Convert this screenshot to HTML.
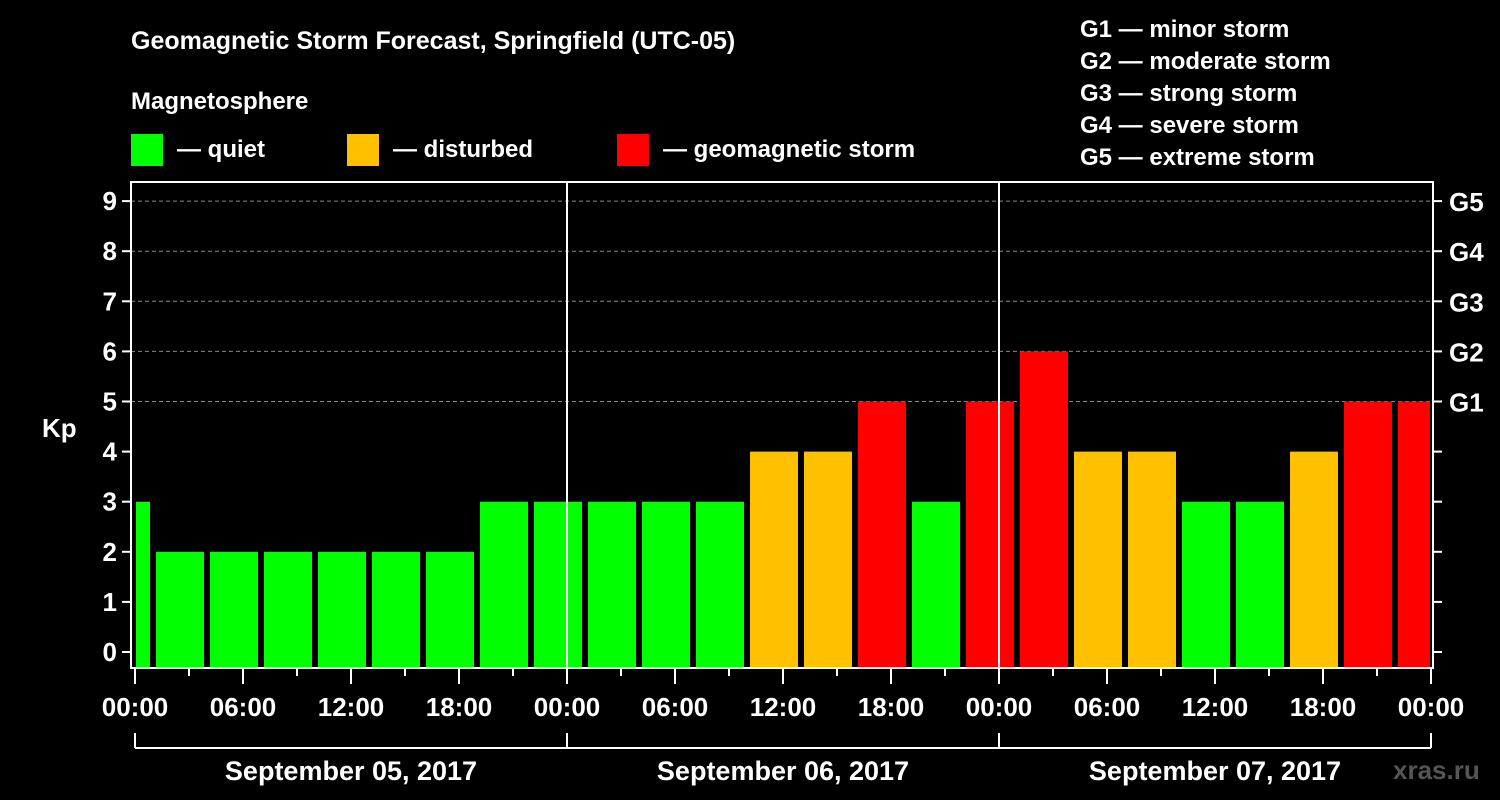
<!DOCTYPE html>
<html><head><meta charset="utf-8"><style>
html,body{margin:0;padding:0;background:#000;}
svg{display:block;font-family:"Liberation Sans",sans-serif;font-weight:bold;}
</style></head><body>
<svg width="1500" height="800" viewBox="0 0 1500 800">
<rect width="1500" height="800" fill="#000"/>
<text x="131" y="49" fill="#fff" font-size="25">Geomagnetic Storm Forecast, Springfield (UTC-05)</text>
<text x="131" y="109" fill="#fff" font-size="24">Magnetosphere</text>
<g><rect x="131" y="134" width="32" height="32" fill="#00ff00"/><text x="177" y="157" fill="#fff" font-size="24">— quiet</text></g>
<g><rect x="347" y="134" width="32" height="32" fill="#ffc000"/><text x="393" y="157" fill="#fff" font-size="24">— disturbed</text></g>
<g><rect x="617" y="134" width="32" height="32" fill="#ff0000"/><text x="663" y="157" fill="#fff" font-size="24">— geomagnetic storm</text></g>
<g fill="#fff" font-size="24">
<text x="1080" y="37">G1 — minor storm</text>
<text x="1080" y="69">G2 — moderate storm</text>
<text x="1080" y="101">G3 — strong storm</text>
<text x="1080" y="133">G4 — severe storm</text>
<text x="1080" y="165">G5 — extreme storm</text>
</g>
<text x="42" y="437" fill="#fff" font-size="26">Kp</text>
<g id="plot"></g>
<text x="1393" y="779" fill="#555" font-size="26">xras.ru</text>
</svg>
<script>
const kpValues=[3,2,2,2,2,2,2,3,3,3,3,3,4,4,5,3,5,6,4,4,3,3,4,5,5];
const dayLabels=["September 05, 2017","September 06, 2017","September 07, 2017"];
const hourLabels=["00:00","06:00","12:00","18:00"];
const gLabels=["G1","G2","G3","G4","G5"];
const NS="http://www.w3.org/2000/svg";
const g=document.getElementById('plot');
const L=131,R=1433,T=182,B=668,X0=135;
const xh=h=>X0+h*18; // hours
const yk=k=>652-k*50.1;
function el(tag,attrs,txt){const e=document.createElementNS(NS,tag);for(const k in attrs)e.setAttribute(k,attrs[k]);if(txt!==undefined)e.textContent=txt;g.appendChild(e);return e;}
function col(v){return v>=5?"#ff0000":v>=4?"#ffc000":"#00ff00";}
// grid
for(let k=5;k<=9;k++){const e=el('line',{x1:L,x2:R,y1:yk(k),y2:yk(k),stroke:'#888','stroke-dasharray':'4,3','stroke-width':1});

}
// bars
kpValues.forEach((v,i)=>{const s=-2+3*i;let x1=Math.max(xh(s)+3,L+5);let x2=Math.min(xh(s+3)-3,R-3);
const e=el('rect',{x:x1,y:yk(v),width:x2-x1,height:B-1-yk(v),fill:col(v)});

});
// day separators
[1,2].forEach(d=>{const e=el('line',{x1:xh(24*d),x2:xh(24*d),y1:T,y2:B,stroke:'#fff','stroke-width':2});

});
// frame
const fr=el('rect',{x:L,y:T,width:R-L,height:B-T,fill:'none',stroke:'#fff','stroke-width':2});


// y ticks
for(let k=0;k<=9;k++){const y=yk(k);
el('line',{x1:L-9,x2:L,y1:y,y2:y,stroke:'#fff','stroke-width':2});
el('line',{x1:R,x2:R+9,y1:y,y2:y,stroke:'#fff','stroke-width':2});
const t=el('text',{x:L-14,y:y+9,fill:'#fff','font-size':26,'text-anchor':'end'},String(k));


if(k>=5){const gt=el('text',{x:R+16,y:y+10,fill:'#fff','font-size':26},gLabels[k-5]);

}}
// x ticks
for(let h=0;h<=72;h+=3){const x=xh(h);const major=h%6===0;
el('line',{x1:x,x2:x,y1:B,y2:B+(major?16:8),stroke:'#fff','stroke-width':2});
if(major){const t=el('text',{x:x,y:716,fill:'#fff','font-size':26,'text-anchor':'middle'},hourLabels[(h/6)%4]);

}}
// day bracket
el('line',{x1:xh(0),x2:xh(72),y1:748,y2:748,stroke:'#fff','stroke-width':2});
for(let d=0;d<=3;d++){el('line',{x1:xh(24*d),x2:xh(24*d),y1:733,y2:748,stroke:'#fff','stroke-width':2});}
dayLabels.forEach((s,d)=>{const t=el('text',{x:xh(24*d+12),y:780,fill:'#fff','font-size':27,'text-anchor':'middle'},s);

});
</script>
</body></html>
